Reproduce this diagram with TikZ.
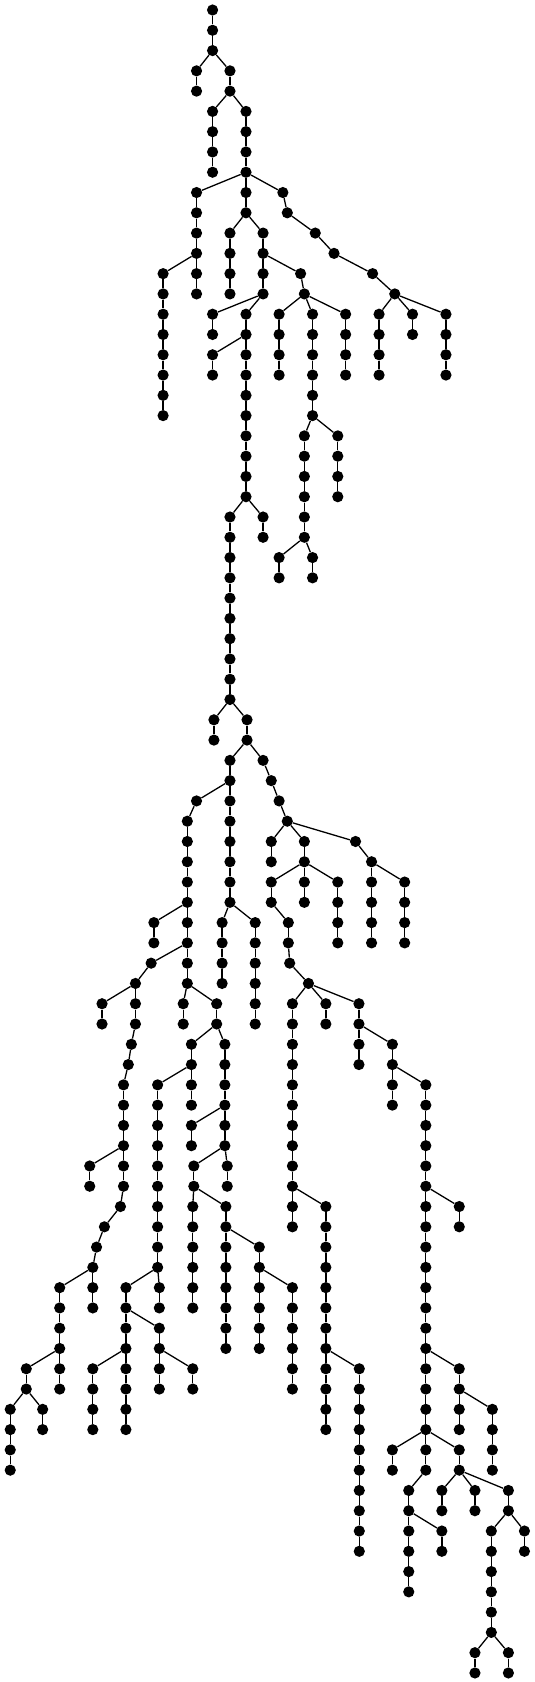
\documentclass[tikz,border=0pt]{standalone}
\newcommand\nd[2]{\node[dot] (n#1l#2) at ({#1*0.3412},{-10-20.28*#2}) {};}
\newcommand\kid[4]{\nd{#1}{#2}\draw[edge] (n#3l#4) -- (n#1l#2);}
\newcommand\mychain[3]{\foreach \L in {#2,...,#3}{\pgfmathtruncatemacro\P{\L-1}\kid{#1}{\L}{#1}{\P}}}
\begin{document}
\begin{tikzpicture}[x=1pt,y=1pt,dot/.style={circle,fill=black,inner sep=0pt,minimum size=11.2pt},edge/.style={line width=1.3pt}]
\useasboundingbox (0,0) rectangle (535,-1682);
\nd{623}{0}
\mychain{623}{1}{2}
\kid{576}{3}{623}{2}
\kid{674}{3}{623}{2}
\kid{576}{4}{576}{3}
\kid{674}{4}{674}{3}
\kid{623}{5}{674}{4}
\kid{721}{5}{674}{4}
\mychain{623}{6}{8}
\mychain{721}{6}{8}
\kid{576}{9}{721}{8}
\kid{721}{9}{721}{8}
\kid{829}{9}{721}{8}
\mychain{576}{10}{14}
\kid{721}{10}{721}{9}
\kid{842}{10}{829}{9}
\kid{674}{11}{721}{10}
\kid{771}{11}{721}{10}
\kid{924}{11}{842}{10}
\mychain{674}{12}{14}
\mychain{771}{12}{14}
\kid{979}{12}{924}{11}
\kid{478}{13}{576}{12}
\kid{881}{13}{771}{12}
\kid{1092}{13}{979}{12}
\mychain{478}{14}{20}
\kid{892}{14}{881}{13}
\kid{1157}{14}{1092}{13}
\kid{623}{15}{771}{14}
\kid{721}{15}{771}{14}
\kid{818}{15}{892}{14}
\kid{916}{15}{892}{14}
\kid{1013}{15}{892}{14}
\kid{1111}{15}{1157}{14}
\kid{1209}{15}{1157}{14}
\kid{1307}{15}{1157}{14}
\kid{623}{16}{623}{15}
\mychain{721}{16}{24}
\mychain{818}{16}{18}
\mychain{916}{16}{20}
\mychain{1013}{16}{18}
\mychain{1111}{16}{18}
\kid{1209}{16}{1209}{15}
\mychain{1307}{16}{18}
\kid{623}{17}{721}{16}
\kid{623}{18}{623}{17}
\kid{892}{21}{916}{20}
\kid{990}{21}{916}{20}
\mychain{892}{22}{26}
\mychain{990}{22}{24}
\kid{674}{25}{721}{24}
\kid{771}{25}{721}{24}
\kid{771}{26}{771}{25}
\mychain{674}{26}{34}
\kid{818}{27}{892}{26}
\kid{916}{27}{892}{26}
\kid{818}{28}{818}{27}
\kid{916}{28}{916}{27}
\kid{627}{35}{674}{34}
\kid{724}{35}{674}{34}
\kid{627}{36}{627}{35}
\kid{724}{36}{724}{35}
\kid{674}{37}{724}{36}
\kid{771}{37}{724}{36}
\mychain{674}{38}{44}
\kid{795}{38}{771}{37}
\kid{576}{39}{674}{38}
\kid{818}{39}{795}{38}
\kid{549}{40}{576}{39}
\kid{842}{40}{818}{39}
\mychain{549}{41}{48}
\kid{795}{41}{842}{40}
\kid{892}{41}{842}{40}
\kid{1042}{41}{842}{40}
\kid{795}{42}{795}{41}
\kid{892}{42}{892}{41}
\kid{1089}{42}{1042}{41}
\kid{795}{43}{892}{42}
\kid{892}{43}{892}{42}
\kid{990}{43}{892}{42}
\mychain{1089}{43}{46}
\kid{1186}{43}{1089}{42}
\kid{795}{44}{795}{43}
\kid{892}{44}{892}{43}
\mychain{990}{44}{46}
\mychain{1186}{44}{46}
\kid{451}{45}{549}{44}
\kid{651}{45}{674}{44}
\kid{748}{45}{674}{44}
\kid{845}{45}{795}{44}
\kid{451}{46}{451}{45}
\mychain{651}{46}{48}
\mychain{748}{46}{50}
\kid{845}{46}{845}{45}
\kid{443}{47}{549}{46}
\kid{849}{47}{845}{46}
\kid{397}{48}{443}{47}
\kid{904}{48}{849}{47}
\kid{299}{49}{397}{48}
\mychain{397}{49}{50}
\kid{537}{49}{549}{48}
\kid{635}{49}{549}{48}
\kid{857}{49}{904}{48}
\kid{955}{49}{904}{48}
\kid{1052}{49}{904}{48}
\kid{299}{50}{299}{49}
\kid{537}{50}{537}{49}
\kid{635}{50}{635}{49}
\mychain{857}{50}{60}
\kid{955}{50}{955}{49}
\mychain{1052}{50}{52}
\kid{385}{51}{397}{50}
\kid{561}{51}{635}{50}
\kid{659}{51}{635}{50}
\kid{1150}{51}{1052}{50}
\kid{376}{52}{385}{51}
\mychain{561}{52}{54}
\mychain{659}{52}{56}
\mychain{1150}{52}{54}
\kid{362}{53}{376}{52}
\kid{462}{53}{561}{52}
\kid{1248}{53}{1150}{52}
\mychain{362}{54}{58}
\mychain{462}{54}{62}
\mychain{1248}{54}{72}
\kid{561}{55}{659}{54}
\kid{561}{56}{561}{55}
\kid{263}{57}{362}{56}
\kid{568}{57}{659}{56}
\kid{666}{57}{659}{56}
\kid{263}{58}{263}{57}
\kid{568}{58}{568}{57}
\kid{666}{58}{666}{57}
\kid{353}{59}{362}{58}
\kid{565}{59}{568}{58}
\kid{662}{59}{568}{58}
\kid{955}{59}{857}{58}
\kid{1346}{59}{1248}{58}
\kid{306}{60}{353}{59}
\mychain{565}{60}{64}
\mychain{662}{60}{66}
\mychain{955}{60}{70}
\kid{1346}{60}{1346}{59}
\kid{283}{61}{306}{60}
\kid{760}{61}{662}{60}
\kid{272}{62}{283}{61}
\mychain{760}{62}{66}
\kid{175}{63}{272}{62}
\mychain{272}{63}{64}
\kid{369}{63}{462}{62}
\kid{467}{63}{462}{62}
\kid{857}{63}{760}{62}
\mychain{175}{64}{68}
\mychain{369}{64}{70}
\kid{467}{64}{467}{63}
\mychain{857}{64}{68}
\kid{467}{65}{369}{64}
\mychain{467}{66}{68}
\kid{77}{67}{175}{66}
\kid{272}{67}{369}{66}
\kid{565}{67}{467}{66}
\kid{1053}{67}{955}{66}
\kid{1346}{67}{1248}{66}
\kid{77}{68}{77}{67}
\mychain{272}{68}{70}
\kid{565}{68}{565}{67}
\mychain{1053}{68}{76}
\mychain{1346}{68}{70}
\kid{30}{69}{77}{68}
\kid{125}{69}{77}{68}
\kid{1443}{69}{1346}{68}
\mychain{30}{70}{72}
\kid{125}{70}{125}{69}
\mychain{1443}{70}{72}
\kid{1150}{71}{1248}{70}
\kid{1346}{71}{1248}{70}
\kid{1150}{72}{1150}{71}
\kid{1346}{72}{1346}{71}
\kid{1198}{73}{1248}{72}
\kid{1295}{73}{1346}{72}
\kid{1392}{73}{1346}{72}
\kid{1490}{73}{1346}{72}
\mychain{1198}{74}{78}
\kid{1295}{74}{1295}{73}
\kid{1392}{74}{1392}{73}
\kid{1490}{74}{1490}{73}
\kid{1295}{75}{1198}{74}
\kid{1440}{75}{1490}{74}
\kid{1537}{75}{1490}{74}
\kid{1295}{76}{1295}{75}
\kid{1537}{76}{1537}{75}
\mychain{1440}{76}{80}
\kid{1392}{81}{1440}{80}
\kid{1490}{81}{1440}{80}
\kid{1392}{82}{1392}{81}
\kid{1490}{82}{1490}{81}
\end{tikzpicture}
\end{document}
